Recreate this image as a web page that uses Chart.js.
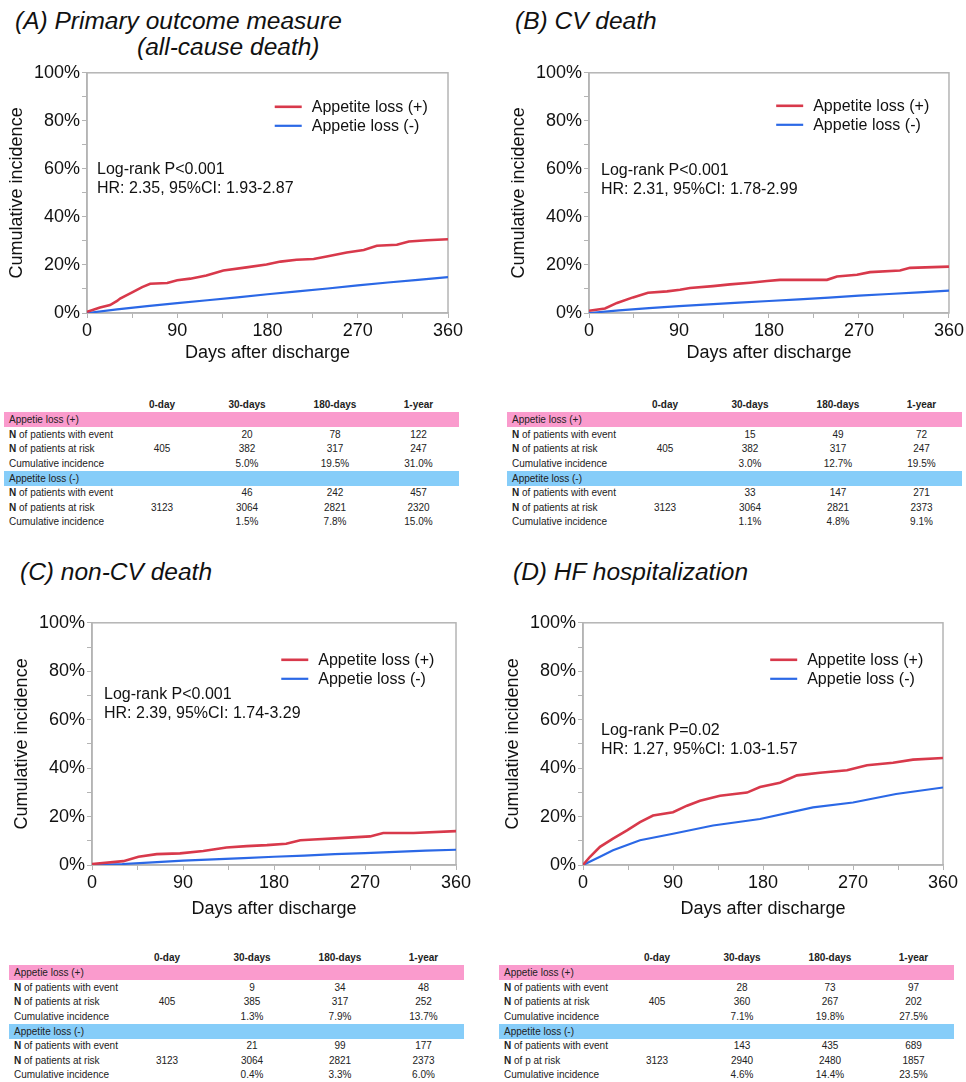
<!DOCTYPE html>
<html>
<head>
<meta charset="utf-8">
<script src="https://cdn.jsdelivr.net/npm/chart.js@4.4.1/dist/chart.umd.min.js"></script>
<style>
  body {
    margin: 0;
    width: 966px;
    height: 1082px;
    position: relative;
    overflow: hidden;
    background: #fff;
    font-family: "Liberation Sans", Arial, Helvetica, sans-serif;
    color: #111;
  }
  .title {
    position: absolute;
    font-style: italic;
    font-size: 24.5px;
    line-height: 24px;
    white-space: nowrap;
  }
  canvas { position: absolute; }
  .tbl { position: absolute; }
  .tbl table {
    border-collapse: collapse;
    table-layout: fixed;
    width: 455px;
    font-size: 10px;
    color: #222;
  }
  .tbl td { padding: 0; white-space: nowrap; text-align: center; }
  .tbl td.lab { text-align: left; padding-left: 5px; }
  .tbl tr.head td { height: 16px; font-weight: bold; }
  .tbl tr.row td { height: 14.5px; }
  .tbl tr.band td { height: 15px; text-align: left; padding-left: 5px; }
  .tbl tr.pink td { background: #fa9bcd; }
  .tbl tr.blue td { background: #86cdf9; }
</style>
</head>
<body>

<div class="title" style="left:15px;top:9px;">(A) Primary outcome measure</div>
<div class="title" style="left:137px;top:35px;">(all-cause death)</div>
<div class="title" style="left:515px;top:9px;">(B) CV death</div>
<div class="title" style="left:20px;top:560px;">(C) non-CV death</div>
<div class="title" style="left:513px;top:560px;">(D) HF hospitalization</div>

<canvas id="chartA" width="470" height="310" style="left:0px;top:60px;"></canvas>
<canvas id="chartB" width="464" height="310" style="left:502px;top:60px;"></canvas>
<canvas id="chartC" width="473" height="312" style="left:5px;top:610px;"></canvas>
<canvas id="chartD" width="469" height="312" style="left:496px;top:610px;"></canvas>

<div class="tbl" id="tableA" style="left:4px;top:396px;"></div>
<div class="tbl" id="tableB" style="left:507px;top:396px;"></div>
<div class="tbl" id="tableC" style="left:9px;top:949px;"></div>
<div class="tbl" id="tableD" style="left:499px;top:949px;"></div>

<script>
// Data (days after discharge, cumulative incidence %)

const seriesNames = ['Appetite loss (+)', 'Appetie loss (-)'];

// (A) all-cause death
const aPosDays = [0, 13, 23, 30, 33, 46, 55, 63, 80, 90, 103, 119, 136, 159, 179, 193, 209, 226, 239, 259, 276, 289, 309, 321, 339, 360];
const aPosInc = [0.5, 2.3, 3.3, 5.0, 6.0, 8.8, 10.8, 12.2, 12.5, 13.6, 14.3, 15.6, 17.7, 19.0, 20.2, 21.4, 22.2, 22.5, 23.5, 25.2, 26.2, 28.0, 28.4, 29.8, 30.3, 30.7];
const aNegDays = [0, 30, 60, 90, 120, 150, 180, 210, 240, 270, 300, 330, 360];
const aNegInc = [0, 1.5, 2.9, 4.1, 5.3, 6.5, 7.8, 9.0, 10.2, 11.5, 12.7, 13.8, 14.9];

// (B) CV death
const bPosDays = [0, 16, 28, 44, 59, 78, 91, 101, 124, 141, 161, 178, 191, 238, 248, 268, 281, 311, 321, 360];
const bPosInc = [0.9, 1.9, 4.2, 6.5, 8.4, 9.0, 9.7, 10.4, 11.2, 11.9, 12.6, 13.3, 13.8, 13.8, 15.2, 15.9, 17.0, 17.7, 18.8, 19.3];
const bNegDays = [0, 30, 60, 90, 120, 150, 180, 210, 240, 270, 300, 330, 360];
const bNegInc = [0, 1.1, 2.0, 2.9, 3.6, 4.3, 5.0, 5.7, 6.4, 7.2, 7.9, 8.6, 9.3];

// (C) non-CV death
const cPosDays = [0, 31, 46, 64, 87, 110, 133, 153, 173, 192, 206, 219, 245, 275, 288, 318, 360];
const cPosInc = [0.4, 1.6, 3.4, 4.5, 4.8, 5.8, 7.2, 7.8, 8.2, 8.8, 10.2, 10.5, 11.1, 11.8, 13.2, 13.2, 14.0];
const cNegDays = [0, 30, 60, 90, 120, 150, 180, 210, 240, 270, 300, 330, 360];
const cNegInc = [0, 0.4, 1.1, 1.8, 2.3, 2.8, 3.4, 3.9, 4.5, 4.9, 5.4, 5.9, 6.3];

// (D) HF hospitalization
const dPosDays = [0, 7, 17, 30, 44, 57, 70, 90, 104, 117, 137, 164, 177, 197, 214, 237, 264, 284, 310, 330, 360];
const dPosInc = [0, 3.4, 7.5, 10.9, 14.3, 17.7, 20.4, 21.8, 24.5, 26.5, 28.6, 29.9, 32.2, 34.0, 37.0, 38.1, 39.1, 41.2, 42.2, 43.5, 44.2];
const dNegDays = [0, 17, 30, 57, 90, 130, 177, 230, 270, 313, 360];
const dNegInc = [0, 3.4, 6.1, 10.2, 12.9, 16.3, 19.0, 23.8, 25.8, 29.3, 32.0];

// stats text inside each plot
const notesA = ['Log-rank P<0.001', 'HR: 2.35, 95%CI: 1.93-2.87'];
const notesB = ['Log-rank P<0.001', 'HR: 2.31, 95%CI: 1.78-2.99'];
const notesC = ['Log-rank P<0.001', 'HR: 2.39, 95%CI: 1.74-3.29'];
const notesD = ['Log-rank P=0.02', 'HR: 1.27, 95%CI: 1.03-1.57'];

// axis ticks
const xTickLabels = [0, 90, 180, 270, 360];
const yTickLabels = [0, 20, 40, 60, 80, 100];

// tables
const tableCols = ['0-day', '30-days', '180-days', '1-year'];
const bandNames = ['Appetie loss (+)', 'Appetite loss (-)'];
const rowNames = ['N of patients with event', 'N of patients at risk', 'Cumulative incidence'];
const rowNamesDNeg = ['N of patients with event', 'N of p at risk', 'Cumulative incidence'];

const tabAPos = [['', '20', '78', '122'], ['405', '382', '317', '247'], ['', '5.0%', '19.5%', '31.0%']];
const tabANeg = [['', '46', '242', '457'], ['3123', '3064', '2821', '2320'], ['', '1.5%', '7.8%', '15.0%']];
const tabBPos = [['', '15', '49', '72'], ['405', '382', '317', '247'], ['', '3.0%', '12.7%', '19.5%']];
const tabBNeg = [['', '33', '147', '271'], ['3123', '3064', '2821', '2373'], ['', '1.1%', '4.8%', '9.1%']];
const tabCPos = [['', '9', '34', '48'], ['405', '385', '317', '252'], ['', '1.3%', '7.9%', '13.7%']];
const tabCNeg = [['', '21', '99', '177'], ['3123', '3064', '2821', '2373'], ['', '0.4%', '3.3%', '6.0%']];
const tabDPos = [['', '28', '73', '97'], ['405', '360', '267', '202'], ['', '7.1%', '19.8%', '27.5%']];
const tabDNeg = [['', '143', '435', '689'], ['3123', '2940', '2480', '1857'], ['', '4.6%', '14.4%', '23.5%']];

// Colours
const RED = '#d8394b';
const BLUE = '#2b68e6';
const FRAME = '#b4b4b4';
const FONT = '"Liberation Sans", Arial, Helvetica, sans-serif';

// frame round the plot + legend + stats text
const kmDecor = {
    id: 'kmDecor',
    beforeDatasetsDraw(chart) {
        const { ctx, chartArea: a } = chart;
        ctx.save();
        ctx.strokeStyle = FRAME;
        ctx.lineWidth = 1.5;
        ctx.strokeRect(a.left, a.top, a.right - a.left, a.bottom - a.top);
        ctx.restore();
    },
    afterDatasetsDraw(chart, args, opts) {
        const { ctx, chartArea: a } = chart;
        ctx.save();
        ctx.font = '16px ' + FONT;
        ctx.textBaseline = 'middle';
        ctx.fillStyle = '#111';

        // legend
        const lx = a.left + 0.52 * (a.right - a.left);
        chart.data.datasets.forEach((ds, i) => {
            const ly = a.top + opts.legendY + i * 19;
            ctx.strokeStyle = ds.borderColor;
            ctx.lineWidth = ds.borderWidth;
            ctx.beginPath();
            ctx.moveTo(lx, ly);
            ctx.lineTo(lx + 27, ly);
            ctx.stroke();
            ctx.fillText(ds.label, lx + 37, ly + 1);
        });

        // stats
        opts.notes.forEach((t, i) => {
            ctx.fillText(t, a.left + opts.noteX, a.top + opts.noteY + i * 18.5);
        });
        ctx.restore();
    }
};

function makeChart(id, posDays, posInc, negDays, negInc, notes, decor, rightPad, titleGap) {
    const toPts = (d, v) => d.map((x, i) => ({ x: x, y: v[i] }));
    new Chart(document.getElementById(id), {
        type: 'line',
        data: {
            datasets: [
                {
                    label: seriesNames[0],
                    data: toPts(posDays, posInc),
                    borderColor: RED,
                    borderWidth: 2.6,
                    pointRadius: 0
                },
                {
                    label: seriesNames[1],
                    data: toPts(negDays, negInc),
                    borderColor: BLUE,
                    borderWidth: 2.2,
                    pointRadius: 0
                }
            ]
        },
        options: {
            responsive: false,
            animation: false,
            layout: { autoPadding: false, padding: { top: 10, right: rightPad, left: 0, bottom: 0 } },
            plugins: {
                legend: { display: false },
                tooltip: { enabled: false },
                kmDecor: Object.assign({ notes: notes }, decor)
            },
            scales: {
                x: {
                    type: 'linear',
                    min: 0,
                    max: 360,
                    afterFit: (s) => { s.height = 57; },
                    ticks: {
                        stepSize: 45,
                        autoSkip: false,
                        maxRotation: 0,
                        padding: 2,
                        color: '#111',
                        font: { family: FONT, size: 18 },
                        callback: (v) => xTickLabels.includes(v) ? String(v) : ''
                    },
                    grid: { drawOnChartArea: false, tickLength: 5, color: FRAME },
                    border: { color: FRAME, width: 1.5 },
                    title: {
                        display: true,
                        text: 'Days after discharge',
                        color: '#111',
                        font: { family: FONT, size: 18 },
                        padding: { top: 0, bottom: titleGap }
                    }
                },
                y: {
                    min: 0,
                    max: 100,
                    afterFit: (s) => { s.width = 87; },
                    ticks: {
                        stepSize: 10,
                        autoSkip: false,
                        padding: 2,
                        color: '#111',
                        font: { family: FONT, size: 18 },
                        callback: (v) => yTickLabels.includes(v) ? v + '%' : ''
                    },
                    grid: { drawOnChartArea: false, tickLength: 5, color: FRAME },
                    border: { color: FRAME, width: 1.5 },
                    title: {
                        display: true,
                        text: 'Cumulative incidence',
                        color: '#111',
                        font: { family: FONT, size: 18 },
                        padding: { top: 6, bottom: 0 }
                    }
                }
            }
        },
        plugins: [kmDecor]
    });
}

function makeTable(id, posRows, negRows, posNames, negNames) {
    let html = '<table><colgroup><col style="width:118px"><col style="width:80px">' +
        '<col style="width:90px"><col style="width:86px"><col style="width:81px"></colgroup>';
    html += '<tr class="head"><td></td>' + tableCols.map(c => '<td>' + c + '</td>').join('') + '</tr>';
    [[posRows, posNames], [negRows, negNames]].forEach(([rows, names], g) => {
        html += '<tr class="band ' + (g === 0 ? 'pink' : 'blue') + '"><td colspan="5">' + bandNames[g] + '</td></tr>';
        rows.forEach((r, i) => {
            const lab = names[i].replace(/^N /, '<b>N</b> ');
            html += '<tr class="row"><td class="lab">' + lab + '</td>' + r.map(v => '<td>' + v + '</td>').join('') + '</tr>';
        });
    });
    html += '</table>';
    document.getElementById(id).innerHTML = html;
}

makeChart('chartA', aPosDays, aPosInc, aNegDays, aNegInc, notesA, { legendY: 34, noteX: 10, noteY: 97 }, 22, 6);
makeChart('chartB', bPosDays, bPosInc, bNegDays, bNegInc, notesB, { legendY: 33, noteX: 12, noteY: 98 }, 17, 6);
makeChart('chartC', cPosDays, cPosInc, cNegDays, cNegInc, notesC, { legendY: 37, noteX: 12, noteY: 72 }, 22, 2);
makeChart('chartD', dPosDays, dPosInc, dNegDays, dNegInc, notesD, { legendY: 37, noteX: 18, noteY: 108 }, 22, 2);

makeTable('tableA', tabAPos, tabANeg, rowNames, rowNames);
makeTable('tableB', tabBPos, tabBNeg, rowNames, rowNames);
makeTable('tableC', tabCPos, tabCNeg, rowNames, rowNames);
makeTable('tableD', tabDPos, tabDNeg, rowNames, rowNamesDNeg);
</script>
</body>
</html>
